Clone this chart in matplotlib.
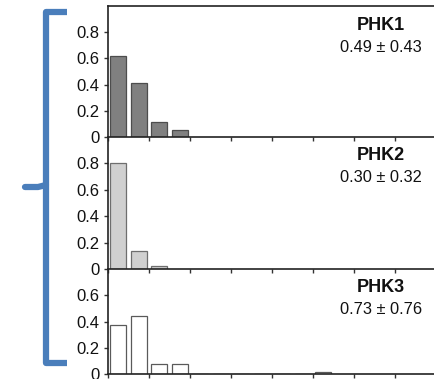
import numpy as np
import matplotlib
matplotlib.use('Agg')
import matplotlib.pyplot as plt
from matplotlib.lines import Line2D

plt.rcParams['font.family'] = ['Liberation Sans', 'DejaVu Sans']

# histogram values per bin (bin index 0..)
phk1 = [0.615, 0.41, 0.117, 0.053]
phk2 = [0.805, 0.134, 0.023]
phk3 = [0.37, 0.44, 0.075, 0.075, 0, 0, 0, 0, 0, 0, 0.018]
names = ['PHK1', 'PHK2', 'PHK3']
stats = ['0.49 \u00b1 0.43', '0.30 \u00b1 0.32', '0.73 \u00b1 0.76']
fills = ['#808080', '#d0d0d0', '#ffffff']
edges = ['#4d4d4d', '#6e6e6e', '#5a5a5a']
ymaxs = [1.0, 1.0, 0.8]
yticks = [[0, 0.2, 0.4, 0.6, 0.8], [0, 0.2, 0.4, 0.6, 0.8], [0, 0.2, 0.4, 0.6]]
series = [phk1, phk2, phk3]

W, H = 434, 379
fig = plt.figure(figsize=(W / 100, H / 100), dpi=100)

# panel pixel extents (top, bottom)
rows = [(6, 137), (137, 269), (269, 374)]
left, right = 108, 440
bin_px = 20.5

for i, (vals, (t, b)) in enumerate(zip(series, rows)):
    ax = fig.add_axes([left / W, (H - b) / H, (right - left) / W, (b - t) / H])
    x = np.arange(len(vals)) + 0.5
    ax.bar(x, vals, width=0.8, color=fills[i], edgecolor=edges[i], linewidth=0.9)
    ax.set_xlim(0, (right - left) / bin_px)
    ax.set_ylim(0, ymaxs[i])
    ax.set_xticks(np.arange(0, 17, 2))
    ax.set_xticklabels([])
    ax.set_yticks(yticks[i])
    ax.set_yticklabels(['0' if v == 0 else f'{v:.1f}' for v in yticks[i]])
    ax.tick_params(axis='both', direction='out', length=3, width=1, color='#333333',
                   labelsize=12, pad=3, labelcolor='#111111')
    ax.spines['right'].set_visible(False)
    ax.spines['top'].set_visible(i == 0)
    for s in ['left', 'bottom', 'top']:
        ax.spines[s].set_color('#222222')
        ax.spines[s].set_linewidth(1.2)
    ax.patch.set_alpha(0)
    h = b - t
    ax.text(0.822, 1 - 19 / h, names[i], transform=ax.transAxes,
            ha='center', va='center', fontsize=13, fontweight='bold', color='#111111')
    ax.text(0.822, 1 - 41 / h, stats[i], transform=ax.transAxes,
            ha='center', va='center', fontsize=11.8, color='#111111')

# blue bracket on the left
blue = '#4a7ebb'
bx = [67 / W, 46 / W, 46 / W, 67 / W]
by = [1 - v / H for v in [12, 12, 363, 363]]
fig.add_artist(Line2D(bx, by, color=blue, linewidth=4.5,
                      solid_joinstyle='round', solid_capstyle='butt'))
sx = [25 / W, 38 / W, 46 / W]
sy = [1 - v / H for v in [187, 187, 185]]
fig.add_artist(Line2D(sx, sy, color=blue, linewidth=4.5,
                      solid_joinstyle='round', solid_capstyle='round'))

fig.savefig('out.png', dpi=100)
